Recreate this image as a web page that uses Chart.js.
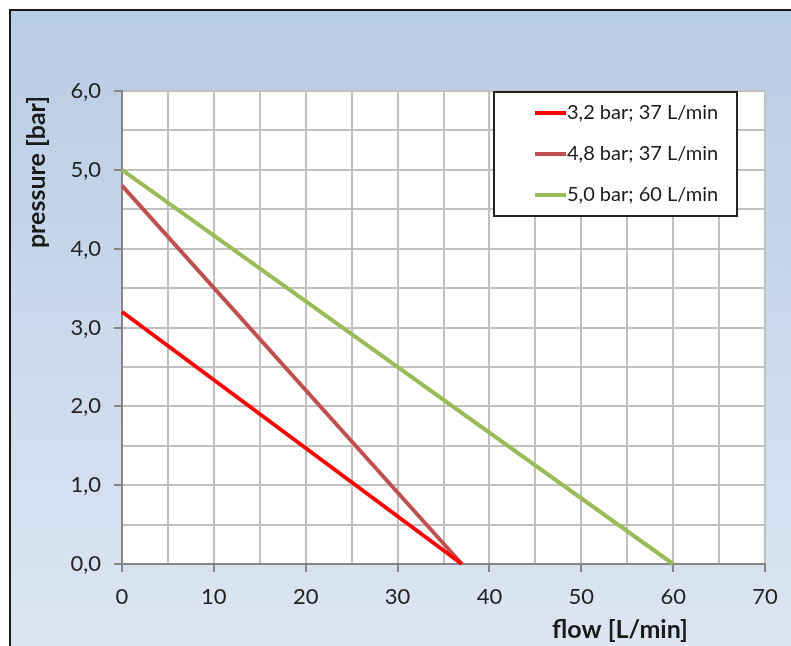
<!DOCTYPE html>
<html>
<head>
<meta charset="utf-8">
<script src="https://cdn.jsdelivr.net/npm/chart.js@4.4.0/dist/chart.umd.min.js"></script>
<style>
	body { margin: 0; background: #fff; }
	canvas { display: block; }
</style>
</head>
<body>
<canvas id="graph-canvas" width="791" height="646"></canvas>
<script>
// data
var seriesLabels = ['3,2 bar; 37 L/min', '4,8 bar; 37 L/min', '5,0 bar; 60 L/min'];
var seriesColors = ['#ff0000', '#c0504d', '#9bbb59'];
var flow1 = [0, 37];
var pressure1 = [3.2, 0];
var flow2 = [0, 37];
var pressure2 = [4.8, 0];
var flow3 = [0, 60];
var pressure3 = [5.0, 0];
var xTitle = 'flow [L/min]';
var yTitle = 'pressure [bar]';

function toPoints(xs, ys) {
	var pts = [];
	for (var i in xs) {
		pts.push({x: xs[i], y: ys[i]});
	}
	return pts;
}

var FONT = 'Lato, "Open Sans", sans-serif';
var GRID = '#c0c0c0';
var AXIS = '#868686';

// frame, gradient background and white plot area
var backgroundPlugin = {
	id: 'background',
	beforeDraw: function(chart) {
		var ctx = chart.ctx;
		var a = chart.chartArea;
		ctx.save();
		ctx.fillStyle = '#ffffff';
		ctx.fillRect(0, 0, chart.width, chart.height);
		var g = ctx.createLinearGradient(0, 10, 0, chart.height);
		g.addColorStop(0, '#b8cce4');
		g.addColorStop(1, '#dce6f2');
		ctx.fillStyle = g;
		ctx.fillRect(10, 10, chart.width - 10, chart.height - 10);
		ctx.strokeStyle = '#1a1a1a';
		ctx.lineWidth = 2;
		ctx.beginPath();
		ctx.moveTo(10, chart.height);
		ctx.lineTo(10, 10);
		ctx.lineTo(chart.width, 10);
		ctx.stroke();
		ctx.fillStyle = '#ffffff';
		ctx.fillRect(a.left, a.top, a.right - a.left, a.bottom - a.top);
		ctx.restore();
	}
};

// axis titles and the boxed legend
var extrasPlugin = {
	id: 'extras',
	afterDraw: function(chart) {
		var ctx = chart.ctx;
		ctx.save();
		ctx.fillStyle = '#1a1a1a';
		ctx.font = 'bold 25px ' + FONT;
		ctx.textAlign = 'center';
		ctx.textBaseline = 'middle';
		ctx.fillText(xTitle, 620, 630);
		ctx.translate(37, 172);
		ctx.rotate(-Math.PI / 2);
		ctx.fillText(yTitle, 0, 0);
		ctx.restore();

		ctx.save();
		ctx.fillStyle = '#ffffff';
		ctx.fillRect(494, 92, 243, 124);
		ctx.strokeStyle = '#222222';
		ctx.lineWidth = 2;
		ctx.strokeRect(494, 92, 243, 124);
		ctx.font = '20px ' + FONT;
		ctx.textBaseline = 'middle';
		ctx.textAlign = 'left';
		chart.data.datasets.forEach(function(ds, i) {
			var y = 113 + i * 41;
			ctx.strokeStyle = ds.borderColor;
			ctx.lineWidth = 4;
			ctx.beginPath();
			ctx.moveTo(535, y);
			ctx.lineTo(566, y);
			ctx.stroke();
			ctx.fillStyle = '#1a1a1a';
			ctx.fillText(ds.label, 567, y);
		});
		ctx.restore();
	}
};

var chartData = {
	datasets: [
		{label: seriesLabels[0], data: toPoints(flow1, pressure1), borderColor: seriesColors[0]},
		{label: seriesLabels[1], data: toPoints(flow2, pressure2), borderColor: seriesColors[1]},
		{label: seriesLabels[2], data: toPoints(flow3, pressure3), borderColor: seriesColors[2]}
	]
};
chartData.datasets.forEach(function(ds) {
	ds.borderWidth = 4;
	ds.pointRadius = 0;
	ds.tension = 0;
	ds.fill = false;
	ds.clip = false;
});

var ctx = document.getElementById('graph-canvas');
var lineGraph = new Chart(ctx, {
	type: 'line',
	data: chartData,
	plugins: [backgroundPlugin, extrasPlugin],
	options: {
		responsive: false,
		animation: false,
		layout: { padding: { left: 10, right: 26, top: 91, bottom: 10 } },
		plugins: {
			legend: { display: false },
			tooltip: { enabled: false }
		},
		scales: {
			x: {
				type: 'linear',
				min: 0,
				max: 70,
				afterFit: function(s) { s.height = 72; },
				border: { color: AXIS, width: 2 },
				grid: {
					color: GRID,
					lineWidth: 2,
					tickLength: 8,
					tickWidth: 2,
					tickColor: function(c) {
						return c.tick && c.tick.value % 10 === 0 ? AXIS : 'rgba(0,0,0,0)';
					}
				},
				ticks: {
					stepSize: 5,
					autoSkip: false,
					maxRotation: 0,
					padding: 12,
					color: '#222222',
					font: { family: FONT, size: 22 },
					callback: function(v) { return v % 10 === 0 ? String(v) : ''; }
				}
			},
			y: {
				min: 0,
				max: 6,
				afterFit: function(s) { s.width = 112; },
				border: { color: AXIS, width: 2 },
				grid: {
					color: GRID,
					lineWidth: 2,
					tickLength: 8,
					tickWidth: 2,
					tickColor: function(c) {
						return c.tick && c.tick.value % 1 === 0 ? AXIS : 'rgba(0,0,0,0)';
					}
				},
				ticks: {
					stepSize: 0.5,
					autoSkip: false,
					padding: 13,
					color: '#222222',
					font: { family: FONT, size: 22 },
					callback: function(v) { return v % 1 === 0 ? v.toFixed(1).replace('.', ',') : ''; }
				}
			}
		}
	}
});
</script>
</body>
</html>
